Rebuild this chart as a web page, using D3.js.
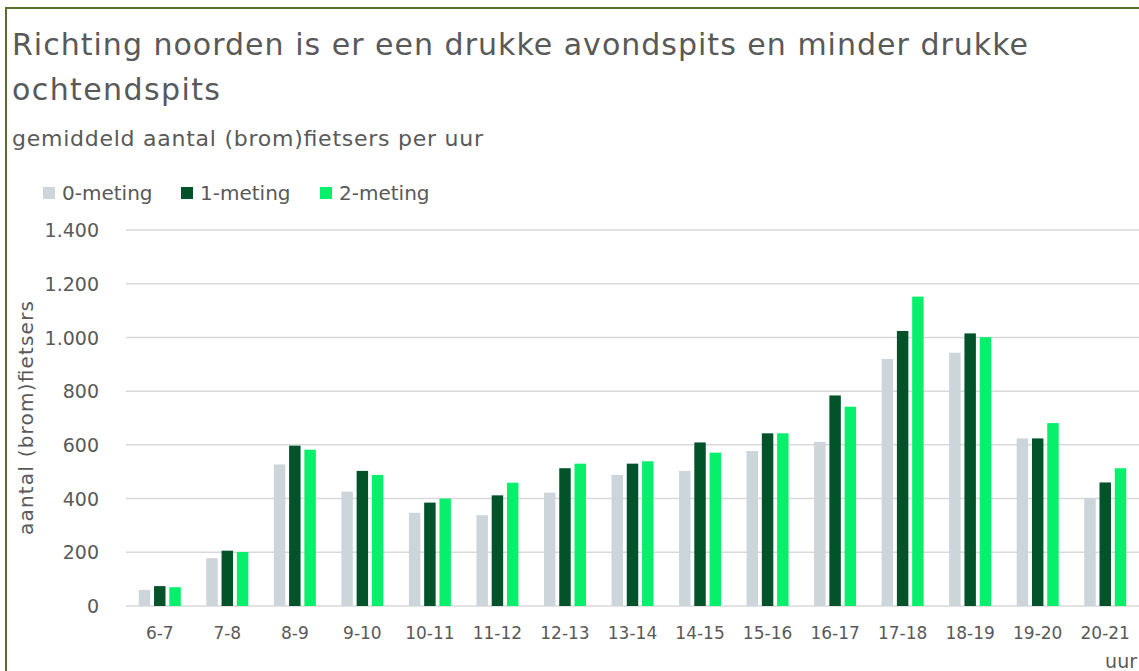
<!DOCTYPE html>
<html>
<head>
<meta charset="utf-8">
<script src="https://cdn.jsdelivr.net/npm/d3@7"></script>
<style>
  body { margin: 0; background: #fff; }
  svg text { font-family: "DejaVu Sans", sans-serif; fill: #595959; }
</style>
</head>
<body>
<div id="chart"></div>
<script>
// data
var categories = ['6-7', '7-8', '8-9', '9-10', '10-11', '11-12', '12-13', '13-14', '14-15', '15-16', '16-17', '17-18', '18-19', '19-20', '20-21'];
var seriesNames = ['0-meting', '1-meting', '2-meting'];
var meting0 = [60, 178, 527, 426, 347, 338, 422, 488, 503, 577, 611, 920, 943, 624, 401];
var meting1 = [74, 206, 597, 503, 385, 412, 513, 530, 609, 643, 784, 1024, 1015, 624, 460];
var meting2 = [70, 201, 582, 488, 400, 459, 530, 539, 571, 643, 742, 1152, 1001, 681, 513];
var yTicks = [0, 200, 400, 600, 800, 1000, 1200, 1400];
var colors = ['#cbd5da', '#02532a', '#07f06b'];

var width = 1139, height = 671;
var margin = {left: 126, right: 0, top: 230, bottom: 65};

var svg = d3.select('#chart').append('svg')
  .attr('width', width)
  .attr('height', height);

// frame lines (top + left)
svg.append('line').attr('x1', 5).attr('x2', width).attr('y1', 8).attr('y2', 8)
  .attr('stroke', '#5b6e30').attr('stroke-width', 2);
svg.append('line').attr('x1', 6).attr('x2', 6).attr('y1', 7).attr('y2', height)
  .attr('stroke', '#5b6e30').attr('stroke-width', 2);

// titles
svg.append('text').attr('x', 12).attr('y', 55).style('font-size', '30px')
  .attr('textLength', 1016).attr('lengthAdjust', 'spacing')
  .text('Richting noorden is er een drukke avondspits en minder drukke');
svg.append('text').attr('x', 12).attr('y', 100).style('font-size', '30px')
  .attr('textLength', 208).attr('lengthAdjust', 'spacing')
  .text('ochtendspits');
svg.append('text').attr('x', 12).attr('y', 146).style('font-size', '22px')
  .attr('textLength', 471).attr('lengthAdjust', 'spacing')
  .text('gemiddeld aantal (brom)fietsers per uur');

var x0 = d3.scaleBand()
  .domain(categories)
  .range([margin.left, width - margin.right])
  .paddingInner(0.378)
  .paddingOuter(0.189);

var x1 = d3.scaleBand()
  .domain(seriesNames)
  .range([0, x0.bandwidth()])
  .paddingInner(0.25);

var y = d3.scaleLinear()
  .domain([0, 1400])
  .range([height - margin.bottom, margin.top]);

// gridlines
svg.append('g').selectAll('line')
  .data(yTicks)
  .enter().append('line')
  .attr('x1', margin.left)
  .attr('x2', width - margin.right)
  .attr('y1', function (d) { return y(d); })
  .attr('y2', function (d) { return y(d); })
  .attr('stroke', '#d9d9d9')
  .attr('stroke-width', 1.5);

// y axis labels
var fmt = function (d) { return d3.format(',')(d).replace(/,/g, '.'); };
var yAxis = svg.append('g')
  .attr('transform', 'translate(' + (margin.left - 24) + ',0)')
  .call(d3.axisLeft(y).tickValues(yTicks).tickFormat(fmt).tickSize(0));
yAxis.select('.domain').remove();
yAxis.selectAll('text').style('font-size', '19px').attr('dx', 0).attr('dy', '0.35em');

// x axis labels
var xAxis = svg.append('g')
  .attr('transform', 'translate(0,' + y(0) + ')')
  .call(d3.axisBottom(x0).tickSize(0).tickPadding(21));
xAxis.select('.domain').remove();
xAxis.selectAll('text').style('font-size', '17px');

svg.append('text')
  .attr('x', 1137).attr('y', 668)
  .attr('text-anchor', 'end')
  .style('font-size', '19px')
  .text('uur');

svg.append('text')
  .attr('transform', 'translate(33,' + 418 + ') rotate(-90)')
  .attr('text-anchor', 'middle')
  .style('font-size', '20px')
  .attr('textLength', 234).attr('lengthAdjust', 'spacing')
  .text('aantal (brom)fietsers');

// bars
var rows = categories.map(function (c, i) {
  return {cat: c, vals: [meting0[i], meting1[i], meting2[i]]};
});

var groups = svg.append('g').selectAll('g')
  .data(rows)
  .enter().append('g')
  .attr('transform', function (d) { return 'translate(' + x0(d.cat) + ',0)'; });

groups.selectAll('rect')
  .data(function (d) { return d.vals.map(function (v, j) { return {name: seriesNames[j], value: v, i: j}; }); })
  .enter().append('rect')
  .attr('x', function (d) { return x1(d.name); })
  .attr('width', x1.bandwidth())
  .attr('y', function (d) { return y(d.value); })
  .attr('height', function (d) { return y(0) - y(d.value); })
  .style('fill', function (d) { return colors[d.i]; });

// legend
var legendX = [43, 181, 320];
var legend = svg.append('g').selectAll('g')
  .data(seriesNames)
  .enter().append('g')
  .attr('transform', function (d, i) { return 'translate(' + legendX[i] + ',187)'; });
legend.append('rect').attr('width', 12).attr('height', 12)
  .style('fill', function (d, i) { return colors[i]; });
legend.append('text').attr('x', 19).attr('y', 13).style('font-size', '20px')
  .text(function (d) { return d; });
</script>
</body>
</html>
